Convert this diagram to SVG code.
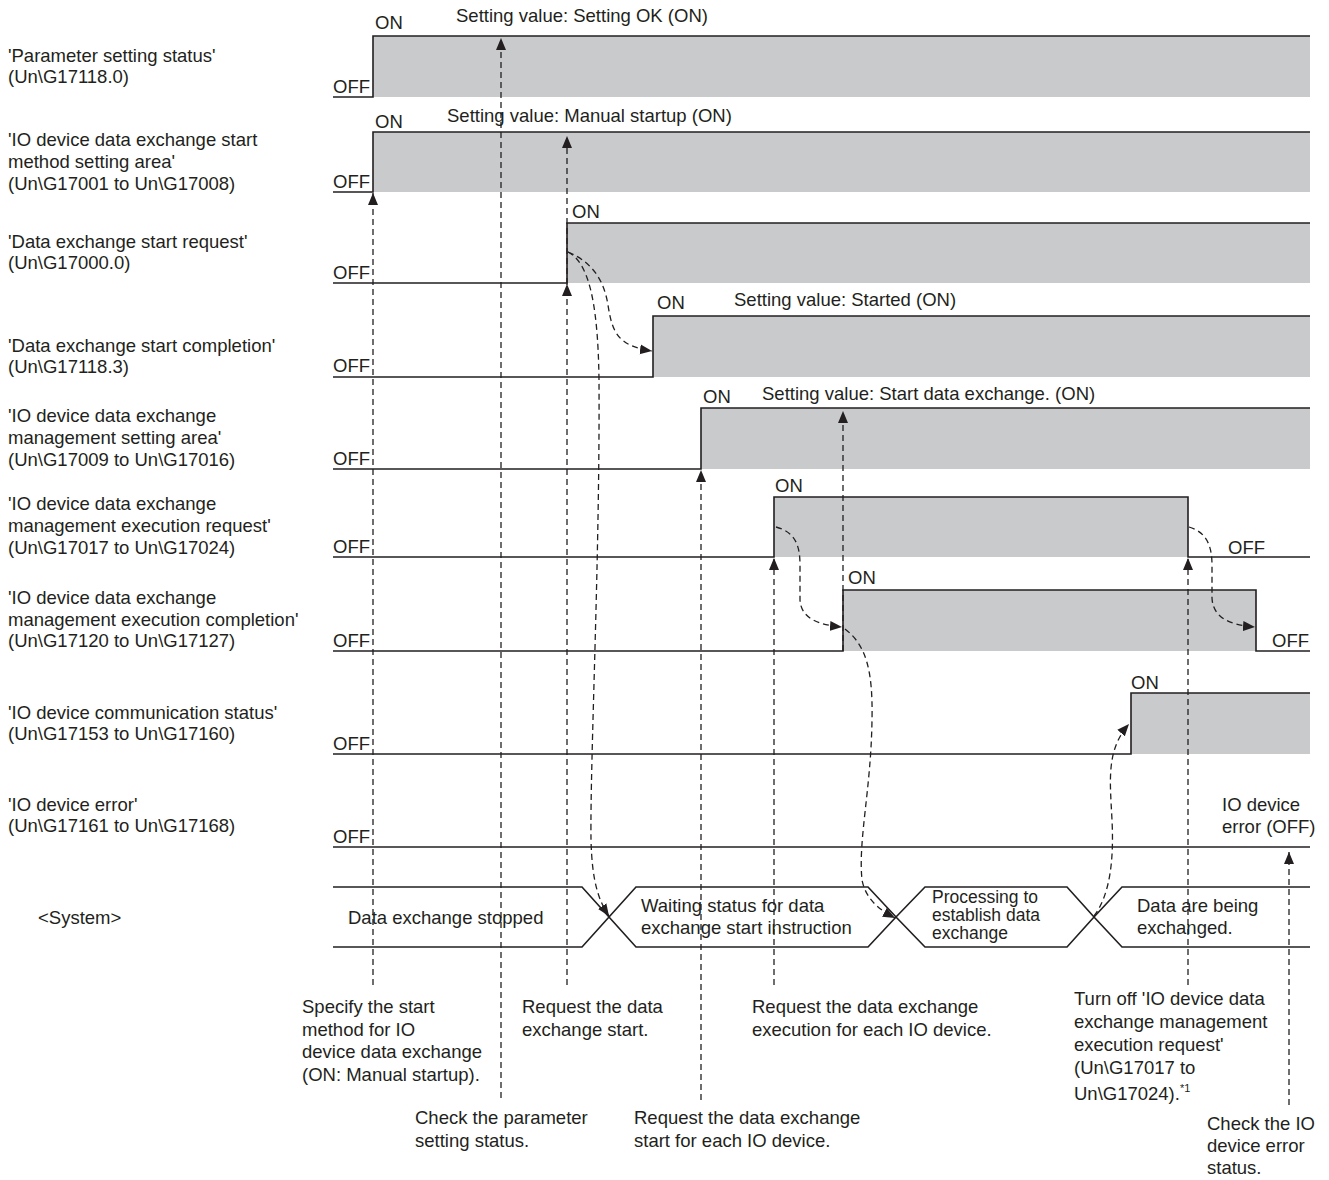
<svg xmlns="http://www.w3.org/2000/svg" width="1329" height="1180" viewBox="0 0 1329 1180">
<style>
text{font-family:"Liberation Sans",Arial,sans-serif;font-size:18.5px;fill:#231f20}
.sup{font-size:11px}
.tight{font-size:17.5px}
.fill{fill:#c9cacc;stroke:none}
.sig{fill:none;stroke:#231f20;stroke-width:1.6}
.dash{fill:none;stroke:#231f20;stroke-width:1.3;stroke-dasharray:6 4}
</style>
<defs>
<marker id="ah" viewBox="0 0 12 10" refX="12" refY="5" markerWidth="12" markerHeight="11" markerUnits="userSpaceOnUse" orient="auto"><path d="M0,0 L12,5 L0,10 z" fill="#231f20"/></marker>
</defs>
<rect width="1329" height="1180" fill="#fff"/>

<g id="row-param-status">
<text x="8" y="62">'Parameter setting status'</text>
<text x="8" y="83">(Un\G17118.0)</text>
<rect class="fill" x="373" y="36" width="937" height="61"/>
<path class="sig" d="M333,97 H373 V36 H1310"/>
<text x="333" y="93">OFF</text>
<text x="375" y="29">ON</text>
<text x="456" y="22">Setting value: Setting OK (ON)</text>
</g>

<g id="row-start-method">
<text x="8" y="146">'IO device data exchange start</text>
<text x="8" y="168">method setting area'</text>
<text x="8" y="190">(Un\G17001 to Un\G17008)</text>
<rect class="fill" x="373" y="132" width="937" height="60"/>
<path class="sig" d="M333,192 H373 V132 H1310"/>
<text x="333" y="188">OFF</text>
<text x="375" y="128">ON</text>
<text x="447" y="122">Setting value: Manual startup (ON)</text>
</g>

<g id="row-start-request">
<text x="8" y="248">'Data exchange start request'</text>
<text x="8" y="269">(Un\G17000.0)</text>
<rect class="fill" x="567" y="223" width="743" height="60"/>
<path class="sig" d="M333,283 H567 V223 H1310"/>
<text x="333" y="279">OFF</text>
<text x="572" y="218">ON</text>
</g>

<g id="row-start-completion">
<text x="8" y="352">'Data exchange start completion'</text>
<text x="8" y="373">(Un\G17118.3)</text>
<rect class="fill" x="653" y="316" width="657" height="61"/>
<path class="sig" d="M333,377 H653 V316 H1310"/>
<text x="333" y="372">OFF</text>
<text x="657" y="309">ON</text>
<text x="734" y="306">Setting value: Started (ON)</text>
</g>

<g id="row-mgmt-setting">
<text x="8" y="422">'IO device data exchange</text>
<text x="8" y="444">management setting area'</text>
<text x="8" y="466">(Un\G17009 to Un\G17016)</text>
<rect class="fill" x="701" y="408" width="609" height="61"/>
<path class="sig" d="M333,469 H701 V408 H1310"/>
<text x="333" y="465">OFF</text>
<text x="703" y="403">ON</text>
<text x="762" y="400">Setting value: Start data exchange. (ON)</text>
</g>

<g id="row-exec-request">
<text x="8" y="510">'IO device data exchange</text>
<text x="8" y="532">management execution request'</text>
<text x="8" y="554">(Un\G17017 to Un\G17024)</text>
<rect class="fill" x="774" y="497" width="414" height="60"/>
<path class="sig" d="M333,557 H774 V497 H1188 V557 H1310"/>
<text x="333" y="553">OFF</text>
<text x="775" y="492">ON</text>
<text x="1228" y="554">OFF</text>
</g>

<g id="row-exec-completion">
<text x="8" y="604">'IO device data exchange</text>
<text x="8" y="626">management execution completion'</text>
<text x="8" y="647">(Un\G17120 to Un\G17127)</text>
<rect class="fill" x="843" y="590" width="413" height="61"/>
<path class="sig" d="M333,651 H843 V590 H1256 V651 H1310"/>
<text x="333" y="647">OFF</text>
<text x="848" y="584">ON</text>
<text x="1272" y="647">OFF</text>
</g>

<g id="row-comm-status">
<text x="8" y="719">'IO device communication status'</text>
<text x="8" y="740">(Un\G17153 to Un\G17160)</text>
<rect class="fill" x="1131" y="693" width="179" height="61"/>
<path class="sig" d="M333,754 H1131 V693 H1310"/>
<text x="333" y="750">OFF</text>
<text x="1131" y="689">ON</text>
</g>

<g id="row-io-error">
<text x="8" y="811">'IO device error'</text>
<text x="8" y="832">(Un\G17161 to Un\G17168)</text>
<path class="sig" d="M333,847 H1310"/>
<text x="333" y="843">OFF</text>
<text x="1222" y="811">IO device</text>
<text x="1222" y="833">error (OFF)</text>
</g>

<g id="system">
<text x="38" y="924">&lt;System&gt;</text>
<g id="state-stopped">
<path class="sig" d="M333,887 H582 L609,917 L582,947 H333" stroke-width="1.3"/>
<text x="348" y="924">Data exchange stopped</text>
</g>
<g id="state-waiting">
<path class="sig" d="M609,917 L636,887 H868 L896,917 L868,947 H636 Z" stroke-width="1.3"/>
<text x="641" y="912">Waiting status for data</text>
<text x="641" y="934">exchange start instruction</text>
</g>
<g id="state-processing">
<path class="sig" d="M896,917 L925,887 H1067 L1094,917 L1067,947 H925 Z" stroke-width="1.3"/>
<text class="tight" x="932" y="903">Processing to</text>
<text class="tight" x="932" y="921">establish data</text>
<text class="tight" x="932" y="939">exchange</text>
</g>
<g id="state-exchanging">
<path class="sig" d="M1310,887 H1122 L1094,917 L1122,947 H1310" stroke-width="1.3"/>
<text x="1137" y="912">Data are being</text>
<text x="1137" y="934">exchanged.</text>
</g>
</g>

<g id="notes">
<g id="note-specify">
<text x="302" y="1013">Specify the start</text>
<text x="302" y="1036">method for IO</text>
<text x="302" y="1058">device data exchange</text>
<text x="302" y="1081">(ON: Manual startup).</text>
</g>
<g id="note-check-param">
<text x="415" y="1124">Check the parameter</text>
<text x="415" y="1147">setting status.</text>
</g>
<g id="note-request-start">
<text x="522" y="1013">Request the data</text>
<text x="522" y="1036">exchange start.</text>
</g>
<g id="note-request-each">
<text x="634" y="1124">Request the data exchange</text>
<text x="634" y="1147">start for each IO device.</text>
</g>
<g id="note-request-exec">
<text x="752" y="1013">Request the data exchange</text>
<text x="752" y="1036">execution for each IO device.</text>
</g>
<g id="note-turn-off">
<text x="1074" y="1005">Turn off 'IO device data</text>
<text x="1074" y="1028">exchange management</text>
<text x="1074" y="1051">execution request'</text>
<text x="1074" y="1074">(Un\G17017 to</text>
<text x="1074" y="1100">Un\G17024).<tspan class="sup" dy="-8">*1</tspan></text>
</g>
<g id="note-check-error">
<text x="1207" y="1130">Check the IO</text>
<text x="1207" y="1152">device error</text>
<text x="1207" y="1174">status.</text>
</g>
</g>

<g id="connectors">
<path class="dash" d="M373,985 V193" marker-end="url(#ah)"/>
<path class="dash" d="M501,1098 V38" marker-end="url(#ah)"/>
<path class="dash" d="M567,985 V284" marker-end="url(#ah)"/>
<path class="dash" d="M567,284 V136" marker-end="url(#ah)"/>
<path class="dash" d="M701,1100 V470" marker-end="url(#ah)"/>
<path class="dash" d="M774,985 V558" marker-end="url(#ah)"/>
<path class="dash" d="M843,651 V411" marker-end="url(#ah)"/>
<path class="dash" d="M1188,985 V558" marker-end="url(#ah)"/>
<path class="dash" d="M1289,1105 V852" marker-end="url(#ah)"/>
<path class="dash" d="M568,252 C592,262 604,280 608,305 C612,330 616,346 652,351" marker-end="url(#ah)"/>
<path class="dash" d="M568,252 C588,262 598,300 599,380 C600,560 590,760 591,840 C592,880 598,900 609,916" marker-end="url(#ah)"/>
<path class="dash" d="M776,527 C795,532 800,545 800,565 L800,600 C801,618 818,625 842,627" marker-end="url(#ah)"/>
<path class="dash" d="M845,629 C866,645 873,670 872,720 C871,790 858,840 862,880 C866,900 880,910 895,918" marker-end="url(#ah)"/>
<path class="dash" d="M1094,916 C1110,895 1114,860 1112,820 C1110,780 1106,750 1129,724" marker-end="url(#ah)"/>
<path class="dash" d="M1189,527 C1206,532 1212,545 1212,565 L1212,598 C1213,618 1230,625 1255,627" marker-end="url(#ah)"/>
</g>
</svg>
